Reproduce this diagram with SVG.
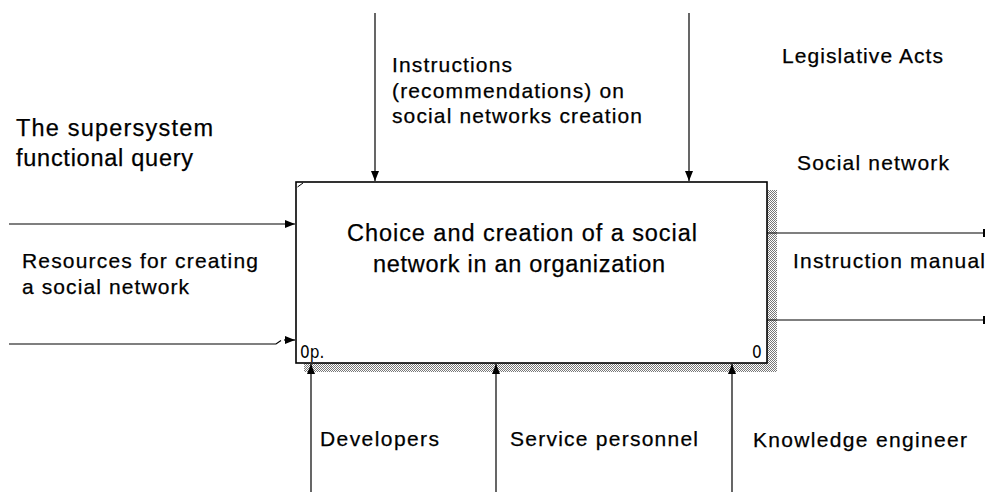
<svg xmlns="http://www.w3.org/2000/svg" width="985" height="492" viewBox="0 0 985 492">
<style>
  text { font-family: "Liberation Sans", Arial, sans-serif; fill: #000; stroke: #000; stroke-width: 0.25; }
  .lbl { font-size: 21px; }
  .big { font-size: 23.5px; }
  .tag { font-size: 17px; stroke-width: 0; font-family: "Liberation Sans Narrow", "DejaVu Sans Condensed", sans-serif; }
  .ln { stroke: #000; stroke-width: 1.2; fill: none; }
</style>
<defs>
  <pattern id="hatch" width="2" height="2" patternUnits="userSpaceOnUse">
    <rect width="2" height="2" fill="#fff"/>
    <rect width="1" height="1" fill="#777"/>
    <rect x="1" y="1" width="1" height="1" fill="#777"/>
  </pattern>
  <marker id="ah" viewBox="0 0 10 8" refX="10" refY="4" markerWidth="10" markerHeight="8" markerUnits="userSpaceOnUse" orient="auto">
    <path d="M0,0 L10,4 L0,8 Z" fill="#000"/>
  </marker>
</defs>

<g id="activity-box">
  <rect x="767" y="190" width="10" height="182" fill="url(#hatch)"/>
  <rect x="304" y="363" width="473" height="9" fill="url(#hatch)"/>
  <rect x="296" y="182" width="471" height="181" fill="#fff" stroke="#000" stroke-width="1.6"/>
  <line x1="297.5" y1="187" x2="303" y2="183" stroke="#000" stroke-width="1"/>
  <text class="big" x="347" y="241" textLength="350">Choice and creation of a social</text>
  <text class="big" x="373" y="272" textLength="292">network in an organization</text>
  <text class="tag" x="300" y="358">0p.</text>
  <text class="tag" x="752" y="358">0</text>
</g>

<g id="connectors">
  <!-- inputs -->
  <line class="ln" x1="9" y1="224" x2="295" y2="224" marker-end="url(#ah)"/>
  <path class="ln" d="M9,344 H276 L281,340.5"/>
  <line class="ln" x1="284" y1="340" x2="295" y2="340" marker-end="url(#ah)"/>
  <!-- controls -->
  <line class="ln" x1="375" y1="13" x2="375" y2="181" marker-end="url(#ah)"/>
  <line class="ln" x1="689" y1="13" x2="689" y2="181" marker-end="url(#ah)"/>
  <!-- mechanisms -->
  <line class="ln" x1="311" y1="492" x2="311" y2="364" marker-end="url(#ah)"/>
  <line class="ln" x1="496" y1="492" x2="496" y2="364" marker-end="url(#ah)"/>
  <line class="ln" x1="732" y1="492" x2="732" y2="364" marker-end="url(#ah)"/>
  <!-- outputs -->
  <line class="ln" x1="767" y1="233" x2="985" y2="233"/>
  <rect x="983" y="229" width="2" height="8" fill="#000"/>
  <line class="ln" x1="767" y1="320" x2="985" y2="320"/>
  <rect x="983" y="316" width="2" height="8" fill="#000"/>
</g>

<g id="label-supersystem">
  <text class="big" x="16" y="136" textLength="197">The supersystem</text>
  <text class="big" x="16" y="166" textLength="177">functional query</text>
</g>
<g id="label-resources">
  <text class="lbl" x="22" y="268" textLength="236">Resources for creating</text>
  <text class="lbl" x="22" y="294" textLength="167">a social network</text>
</g>
<g id="label-instructions">
  <text class="lbl" x="392" y="72" textLength="120">Instructions</text>
  <text class="lbl" x="392" y="98" textLength="232">(recommendations) on</text>
  <text class="lbl" x="392" y="123" textLength="250">social networks creation</text>
</g>
<g id="label-legislative">
  <text class="lbl" x="782" y="63" textLength="161">Legislative Acts</text>
</g>
<g id="label-social-network">
  <text class="lbl" x="797" y="170" textLength="152">Social network</text>
</g>
<g id="label-manual">
  <text class="lbl" x="793" y="268" textLength="192">Instruction manual</text>
</g>
<g id="label-developers">
  <text class="lbl" x="320" y="446" textLength="119">Developers</text>
</g>
<g id="label-service">
  <text class="lbl" x="510" y="446" textLength="188">Service personnel</text>
</g>
<g id="label-knowledge">
  <text class="lbl" x="753" y="447" textLength="214">Knowledge engineer</text>
</g>
</svg>
